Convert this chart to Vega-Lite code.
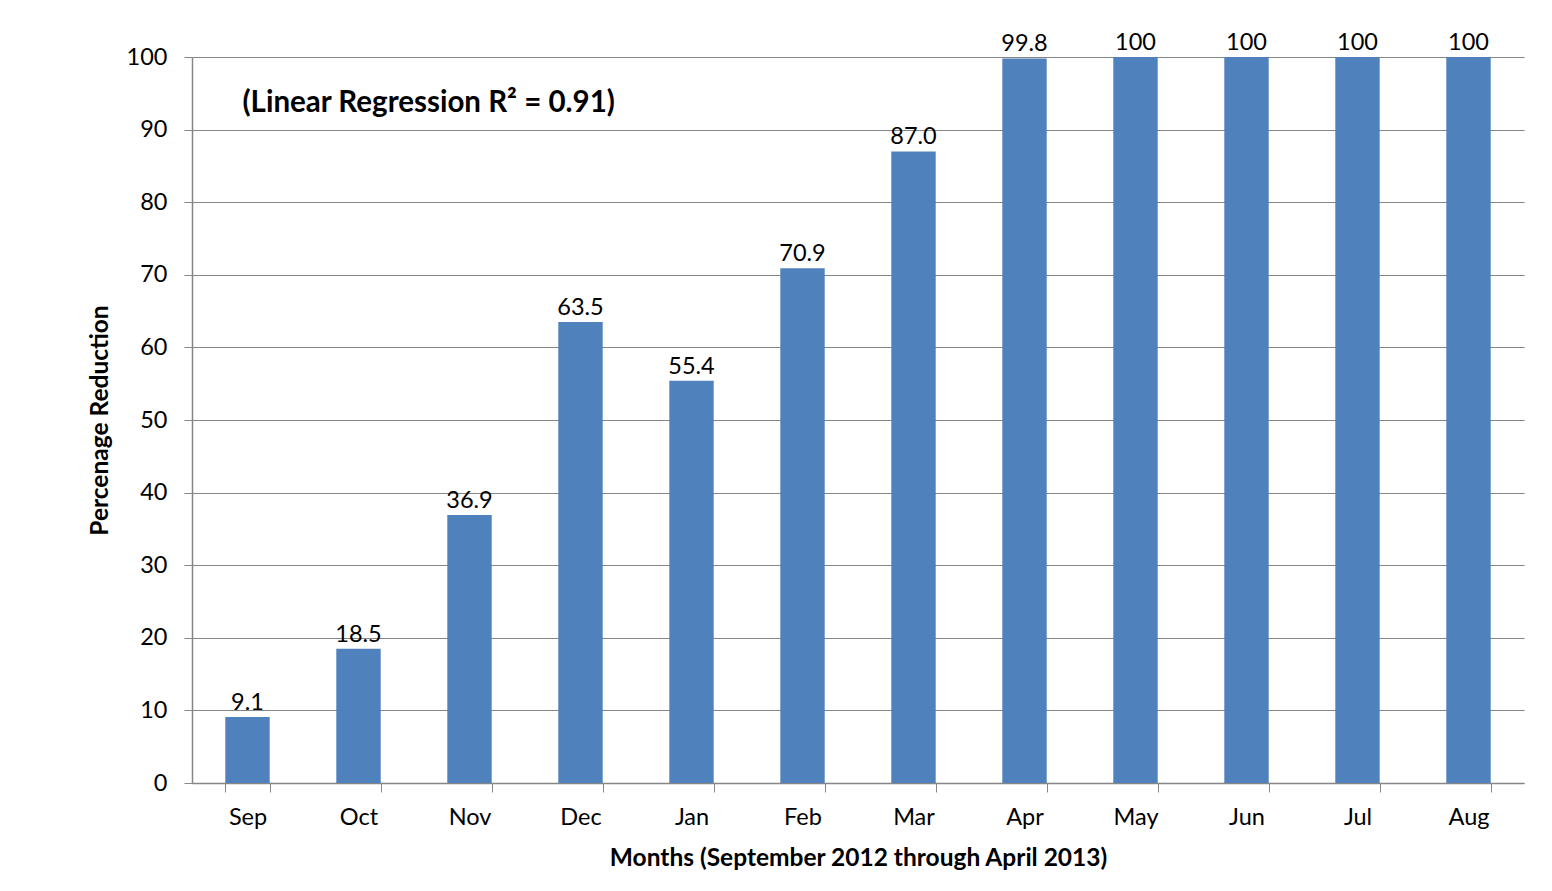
{
  "$schema": "https://vega.github.io/schema/vega-lite/v6.json",
  "width": 1332,
  "height": 726,
  "autosize": {"type": "none"},
  "padding": {"left": 192, "top": 57, "right": 28, "bottom": 108},
  "background": "white",
  "config": {
    "font": "Lato",
    "view": {"stroke": null}
  },
  "data": {
    "values": [
      {"month": "Sep", "value": 9.1, "label": "9.1"},
      {"month": "Oct", "value": 18.5, "label": "18.5"},
      {"month": "Nov", "value": 36.9, "label": "36.9"},
      {"month": "Dec", "value": 63.5, "label": "63.5"},
      {"month": "Jan", "value": 55.4, "label": "55.4"},
      {"month": "Feb", "value": 70.9, "label": "70.9"},
      {"month": "Mar", "value": 87.0, "label": "87.0"},
      {"month": "Apr", "value": 99.8, "label": "99.8"},
      {"month": "May", "value": 100, "label": "100"},
      {"month": "Jun", "value": 100, "label": "100"},
      {"month": "Jul", "value": 100, "label": "100"},
      {"month": "Aug", "value": 100, "label": "100"}
    ]
  },
  "encoding": {
    "x": {
      "field": "month",
      "type": "nominal",
      "sort": null,
      "scale": {"paddingInner": 0.6, "paddingOuter": 0.3},
      "axis": {
        "title": "Months (September 2012 through April 2013)",
        "titleFontSize": 24.5,
        "titleFontWeight": "bold",
        "titleColor": "#000000",
        "titlePadding": 18,
        "labelAngle": 0,
        "labelFontSize": 23.5,
        "labelColor": "#000000",
        "labelPadding": 13,
        "tickBand": "extent",
        "tickSize": 9,
        "tickColor": "#868686",
        "domainColor": "#868686",
        "domainWidth": 1.5,
        "grid": false
      }
    },
    "y": {
      "field": "value",
      "type": "quantitative",
      "scale": {"domain": [0, 100], "nice": false},
      "axis": {
        "title": "Percenage Reduction",
        "titleFontSize": 24.5,
        "titleFontWeight": "bold",
        "titleColor": "#000000",
        "titlePadding": 14,
        "values": [0, 10, 20, 30, 40, 50, 60, 70, 80, 90, 100],
        "labelFontSize": 23.5,
        "labelColor": "#000000",
        "labelPadding": 17,
        "tickSize": 8,
        "tickColor": "#868686",
        "domainColor": "#868686",
        "domainWidth": 1.5,
        "grid": true,
        "gridColor": "#868686",
        "gridWidth": 1.2
      }
    }
  },
  "layer": [
    {
      "mark": {"type": "bar", "color": "#4F81BD"}
    },
    {
      "mark": {"type": "text", "baseline": "bottom", "dy": -2, "fontSize": 23.5, "color": "#000000"},
      "encoding": {"text": {"field": "label"}}
    },
    {
      "data": {"values": [{"note": "(Linear Regression R\u00b2 = 0.91)", "m": "Sep", "v": 93.6}]},
      "mark": {"type": "text", "align": "left", "baseline": "middle", "dx": -5, "fontSize": 29.5, "fontWeight": "bold", "color": "#000000"},
      "encoding": {
        "x": {"field": "m", "type": "nominal"},
        "y": {"field": "v", "type": "quantitative"},
        "text": {"field": "note"}
      }
    }
  ]
}
